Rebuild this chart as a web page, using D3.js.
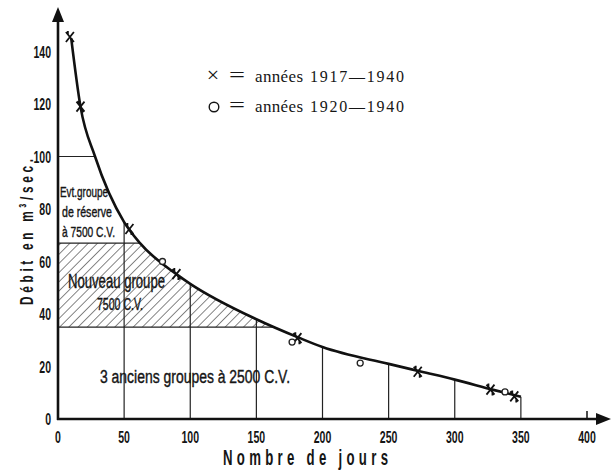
<!DOCTYPE html>
<html><head><meta charset="utf-8">
<script src="https://cdn.jsdelivr.net/npm/d3@7/dist/d3.min.js"></script>
<style>
html,body{margin:0;padding:0;background:#fff;}
svg{display:block;}
.cond{font-family:"Liberation Sans","Arial",sans-serif;fill:#151515;}
.serif{font-family:"Liberation Serif","DejaVu Serif",serif;fill:#151515;}
</style></head><body>
<svg id="c" width="613" height="473"></svg>
<script>
// Duration curve: days vs flow m3/s
const curveDays = [10, 17, 28, 50, 62, 90, 100, 150, 182, 200, 250, 275, 300, 330, 350];
const curveFlow = [145, 119, 100, 75, 67, 55, 51.5, 38, 31, 27.4, 21, 18, 15, 11, 8.5];
// × = années 1917-1940
const crossDays = [9, 17, 54, 89.5, 181, 272, 327, 345];
const crossFlow = [145.5, 119, 72.4, 55.2, 30.8, 18, 11.2, 8.6];
// ○ = années 1920-1940
const circleDays = [79, 177, 228.5, 338];
const circleFlow = [60, 29.3, 21.3, 10.3];
// Ticks
const xTicks = [0, 50, 100, 150, 200, 250, 300, 350, 400];
const yTicks = [0, 20, 40, 60, 80, 100, 120, 140];
const gridDays = [50, 100, 150, 200, 250, 300, 350];
// Horizontal levels: flow and the day where the level meets the curve
const levelFlow = [100, 67, 35];
const levelDay = [28, 62, 164];
const hatchTop = 67, hatchBottom = 35;
// Legend
const legendSymbols = ["×", "○"];
const legendYears = ["1917—1940", "1920—1940"];

const svg = d3.select("#c");
const x = d3.scaleLinear().domain([0, 400]).range([58, 587]);
const y = d3.scaleLinear().domain([0, 140]).range([419, 51.5]);

const pts = curveDays.map((d, i) => [d, curveFlow[i]]);
const flowAt = d => curveFlow[curveDays.indexOf(d)];

// hatch pattern
const defs = svg.append("defs");
const pat = defs.append("pattern").attr("id", "hatch").attr("patternUnits", "userSpaceOnUse")
  .attr("width", 6.5).attr("height", 6.5).attr("patternTransform", "rotate(45)");
pat.append("line").attr("x1", 0).attr("y1", 0).attr("x2", 0).attr("y2", 6.5)
  .attr("stroke", "#222").attr("stroke-width", 1.1);

const clip = defs.append("clipPath").attr("id", "under");
clip.append("path").attr("d", d3.area().x(d => x(d[0])).y0(y(0)).y1(d => y(d[1])).curve(d3.curveMonotoneX)(pts));
clip.append("rect").attr("x", x(0)).attr("y", y(150)).attr("width", x(curveDays[0]) - x(0) + 1).attr("height", y(0) - y(150));

svg.append("rect").attr("clip-path", "url(#under)")
  .attr("x", x(0)).attr("y", y(hatchTop)).attr("width", x(200) - x(0)).attr("height", y(hatchBottom) - y(hatchTop))
  .attr("fill", "url(#hatch)");

// vertical grid lines
svg.append("g").selectAll("line").data(gridDays).join("line")
  .attr("x1", d => x(d)).attr("x2", d => x(d)).attr("y1", y(0)).attr("y2", d => y(flowAt(d)))
  .attr("stroke", "#222").attr("stroke-width", 1.2);

// horizontal levels
svg.append("g").selectAll("line").data(levelFlow).join("line")
  .attr("x1", x(0)).attr("x2", (d, i) => x(levelDay[i])).attr("y1", d => y(d)).attr("y2", d => y(d))
  .attr("stroke", "#222").attr("stroke-width", 1.2);

// curve
svg.append("path").attr("d", d3.line().x(d => x(d[0])).y(d => y(d[1])).curve(d3.curveMonotoneX)(pts))
  .attr("fill", "none").attr("stroke", "#111").attr("stroke-width", 2.6);

// markers
svg.append("g").selectAll("path").data(crossDays.map((d, i) => [d, crossFlow[i]])).join("path")
  .attr("transform", d => `translate(${x(d[0])},${y(d[1])})`)
  .attr("d", "M-4,-5L4,5M4,-5L-4,5M-2,-6L-2,-2M2,2L2,6")
  .attr("stroke", "#111").attr("stroke-width", 1.8).attr("fill", "none");
svg.append("g").selectAll("circle").data(circleDays.map((d, i) => [d, circleFlow[i]])).join("circle")
  .attr("cx", d => x(d[0])).attr("cy", d => y(d[1])).attr("r", 3)
  .attr("fill", "#fff").attr("stroke", "#222").attr("stroke-width", 1.3);

// condensed text helper
function ctext(parent, str, tx, ty, opt) {
  const g = parent.append("g").attr("transform", `translate(${tx},${ty})` + (opt.rot ? ` rotate(${opt.rot})` : ""));
  const t = g.append("text").attr("class", "cond").attr("transform", `scale(${opt.sx || 1},1)`)
    .attr("text-anchor", opt.anchor || "start")
    .style("font-size", opt.fs + "px").style("font-weight", opt.bold ? "bold" : "normal").text(str);
  if (opt.len) t.attr("textLength", opt.len / (opt.sx || 1)).attr("lengthAdjust", opt.adjust || "spacingAndGlyphs");
  if (opt.stroke) t.attr("stroke", "#151515").attr("stroke-width", opt.stroke);
  return t;
}

// tick labels
const gt = svg.append("g");
yTicks.forEach(v => ctext(gt, String(v), 51, y(v) + 6, { fs: 17, bold: true, sx: 0.62, anchor: "end" }));
xTicks.forEach(v => ctext(gt, String(v), x(v), 443, { fs: 17, bold: true, sx: 0.62, anchor: "middle" }));

// axes
svg.append("line").attr("x1", x(400)).attr("x2", x(400)).attr("y1", y(0)).attr("y2", y(0) - 8)
  .attr("stroke", "#111").attr("stroke-width", 1.5);
svg.append("line").attr("x1", x(0)).attr("x2", x(0)).attr("y1", y(0) + 1).attr("y2", 20)
  .attr("stroke", "#111").attr("stroke-width", 2.6);
svg.append("path").attr("d", `M${x(0)},7L${x(0) - 6},22L${x(0) + 6},22Z`).attr("fill", "#111");
svg.append("line").attr("x1", x(0) - 1).attr("x2", 598).attr("y1", y(0)).attr("y2", y(0))
  .attr("stroke", "#111").attr("stroke-width", 2.6);
svg.append("path").attr("d", `M611,${y(0)}L596,${y(0) - 6}L596,${y(0) + 6}Z`).attr("fill", "#111");

// axis titles
ctext(svg, "Débit en m³/sec.", 33, 305, { fs: 19, bold: true, sx: 0.62, rot: -90, len: 146, adjust: "spacing" });
ctext(svg, "Nombre de jours", 223, 465, { fs: 22, bold: true, sx: 0.6, len: 165, adjust: "spacing" });

// region labels
ctext(svg, "Evt.groupe", 60, 197, { fs: 15, len: 48, stroke: 0.4 });
ctext(svg, "de réserve", 62, 217, { fs: 15, len: 50, stroke: 0.4 });
ctext(svg, "à 7500 C.V.", 62, 237, { fs: 15, len: 53, stroke: 0.4 });
ctext(svg, "Nouveau groupe", 68, 288, { fs: 21, len: 97, stroke: 0.4 });
ctext(svg, "7500 C.V.", 97, 310, { fs: 16, len: 46, stroke: 0.4 });
ctext(svg, "3 anciens groupes à 2500 C.V.", 100, 383, { fs: 18, len: 190, stroke: 0.4 });

// legend
const leg = svg.append("g").attr("class", "serif");
legendSymbols.forEach((s, i) => {
  const by = 82 + i * 30;
  if (i === 0) {
    leg.append("text").attr("x", 213).attr("y", by).attr("text-anchor", "middle")
      .style("font-size", "22px").text(s);
  } else {
    leg.append("circle").attr("cx", 214).attr("cy", by - 5).attr("r", 4.8)
      .attr("fill", "none").attr("stroke", "#151515").attr("stroke-width", 1.4);
  }
  leg.append("text").attr("x", 229).attr("y", by).attr("textLength", 16).attr("lengthAdjust", "spacingAndGlyphs")
    .style("font-size", "22px").text("=");
  leg.append("text").attr("x", 255).attr("y", by).attr("textLength", 48)
    .style("font-size", "17px").text("années");
  leg.append("text").attr("x", 310).attr("y", by).attr("textLength", 94)
    .style("font-size", "16px").text(legendYears[i]);
});
</script>
</body></html>
